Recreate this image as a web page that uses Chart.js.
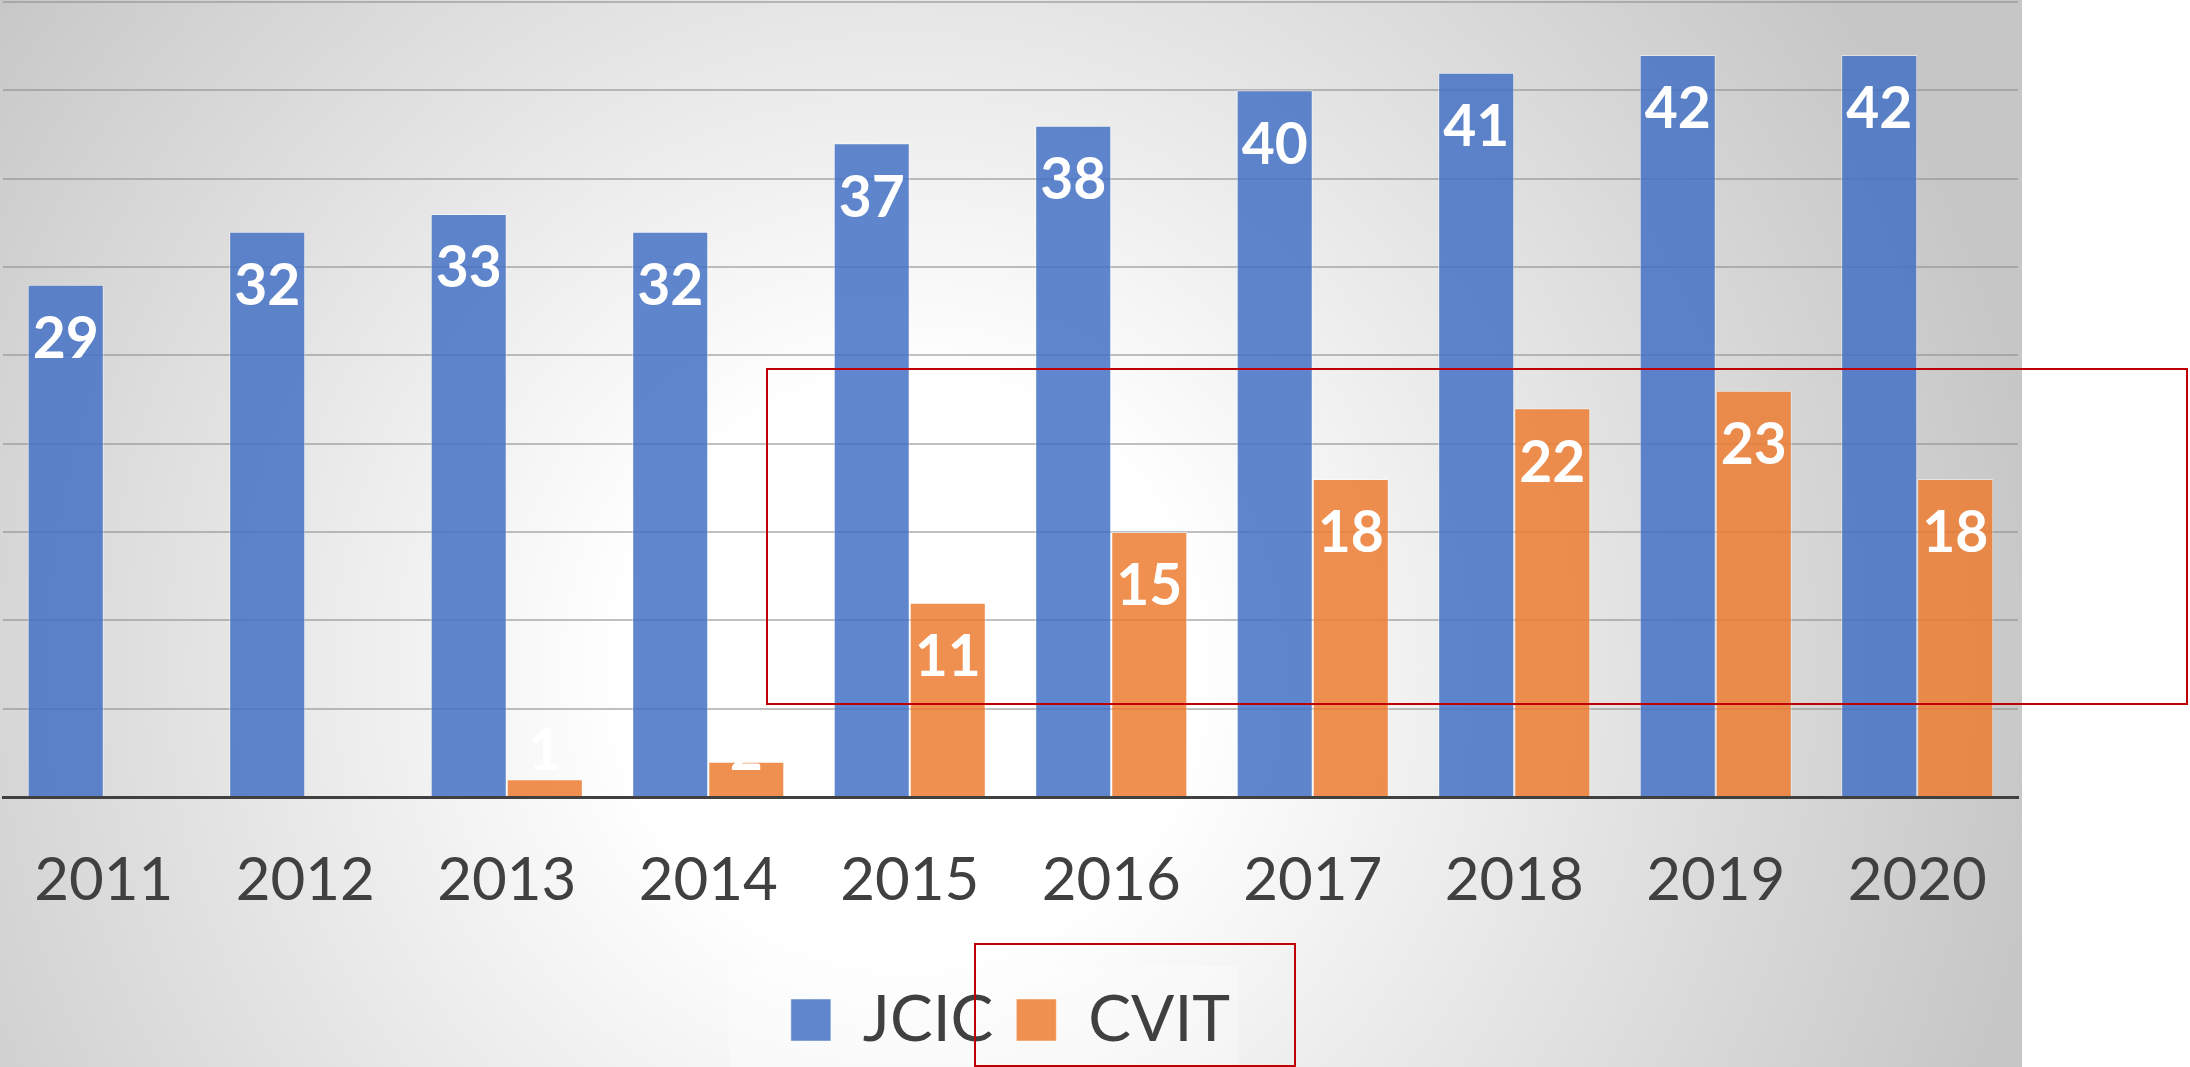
<!DOCTYPE html>
<html>
<head>
<meta charset="utf-8">
<script src="https://cdn.jsdelivr.net/npm/chart.js@4.4.1/dist/chart.umd.min.js"></script>
<style>
  html, body { margin: 0; padding: 0; background: #fff; }
  #wrap {
    position: absolute; left: 0; top: 0; width: 2022px; height: 1067px;
    background: radial-gradient(circle 1150px at 908px 670px, #ffffff 0%, #ffffff 25%, #c6c6c6 100%);
  }
  #legendBg { position: absolute; left: 729px; top: 966px; width: 509px; height: 101px; background: rgba(255,255,255,0.3); }
  #myChart { position: relative; }
  .redbox { position: absolute; border: 2px solid #c00000; box-sizing: border-box; }
</style>
</head>
<body>
<div id="wrap">
  <div id="legendBg"></div>
  <canvas id="myChart" width="2022" height="1067"></canvas>
</div>
<div class="redbox" style="left:766px; top:368px; width:1422px; height:337px;"></div>
<div class="redbox" style="left:974px; top:943px; width:322px; height:124px;"></div>

<script>
let myChart

const years = ['2011', '2012', '2013', '2014', '2015', '2016', '2017', '2018', '2019', '2020']
const jcic = [29, 32, 33, 32, 37, 38, 40, 41, 42, 42]
const cvit = [null, null, 1, 2, 11, 15, 18, 22, 23, 18]

// white value labels, "inside end" like excel
const barLabels = {
    id: 'barLabels',
    afterDatasetsDraw(chart) {
        const ctx = chart.ctx
        const base = chart.scales.y.getPixelForValue(0)
        ctx.save()
        ctx.font = 'bold 57px Lato'
        ctx.fillStyle = '#ffffff'
        ctx.textAlign = 'center'
        ctx.textBaseline = 'middle'
        chart.data.datasets.forEach((ds, i) => {
            chart.getDatasetMeta(i).data.forEach((bar, j) => {
                let v = ds.data[j]
                if (v == null) return
                let y = Math.min(bar.y + 55, base - 45)
                ctx.fillText(String(v), bar.x, y)
            })
        })
        ctx.restore()
    }
}

function initChart() {
    const ctx = document.getElementById('myChart')
    myChart = new Chart(ctx, {
        type: 'bar',
        data: {
            labels: years,
            datasets: [{
                label: 'JCIC',
                data: jcic,
                backgroundColor: 'rgba(68, 114, 196, 0.85)',
                borderColor: 'rgba(255, 255, 255, 0.45)',
                borderWidth: 1
            }, {
                label: 'CVIT',
                data: cvit,
                backgroundColor: 'rgba(237, 125, 49, 0.85)',
                borderColor: 'rgba(255, 255, 255, 0.45)',
                borderWidth: 1
            }]
        },
        options: {
            responsive: false,
            animation: false,
            categoryPercentage: 0.755,
            barPercentage: 1.0,
            layout: {
                padding: { left: 3, right: 4, top: 2, bottom: 5 }
            },
            plugins: {
                tooltip: { enabled: false },
                legend: {
                    position: 'bottom',
                    labels: {
                        font: { family: 'Lato', size: 64 },
                        color: '#404040',
                        boxWidth: 40,
                        boxHeight: 42,
                        padding: 23
                    }
                }
            },
            scales: {
                x: {
                    grid: { display: false, drawTicks: false },
                    border: { color: '#404040', width: 3 },
                    ticks: {
                        font: { family: 'Lato', size: 60, lineHeight: 2.1333 },
                        color: '#404040',
                        padding: 20
                    }
                },
                y: {
                    min: 0,
                    max: 45,
                    ticks: { display: false, stepSize: 5 },
                    grid: { color: 'rgba(140, 140, 140, 0.55)', lineWidth: 2, drawTicks: false },
                    border: { display: false }
                }
            }
        },
        plugins: [barLabels]
    })
}

Promise.all([
    document.fonts.load('bold 57px Lato'),
    document.fonts.load('64px Lato')
]).then(initChart, initChart)
</script>
</body>
</html>
